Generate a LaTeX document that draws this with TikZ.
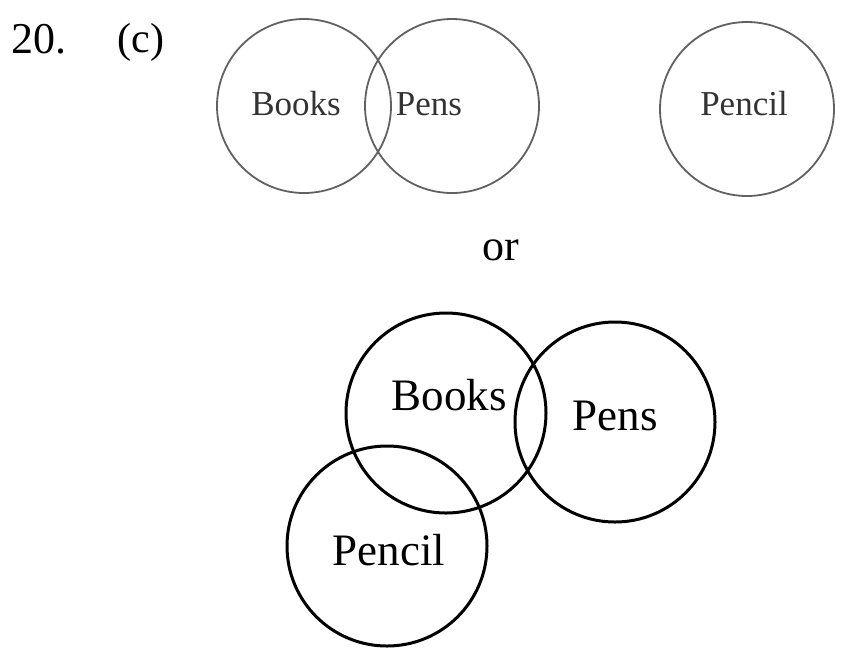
\documentclass[tikz,border=0pt]{standalone}
\usepackage{fontspec}
\setmainfont{Liberation Serif}
\begin{document}
\begin{tikzpicture}[x=1pt,y=-1pt,
  thinset/.style={circle,draw=black!62,line width=1.8pt,inner sep=0pt,outer sep=0pt,minimum size=174pt},
  thickset/.style={circle,draw=black,line width=3pt,inner sep=0pt,outer sep=0pt,minimum size=200pt},
  smalllbl/.style={anchor=base,inner sep=0pt,text=black!80,font=\fontsize{35}{40}\selectfont},
  biglbl/.style={anchor=base,inner sep=0pt,text=black,font=\fontsize{45}{52}\selectfont},
  headlbl/.style={anchor=base,inner sep=0pt,text=black,font=\fontsize{42}{48}\selectfont}]
\useasboundingbox (0,0) rectangle (842,649);
% heading
\node[headlbl,anchor=base west,font=\fontsize{44}{48}\selectfont] (num) at (11,53) {20.};
\node[headlbl] (opt) at (141,52) {(c)};
% top row
\node[thinset] (booksA) at (304,106) {};
\node[thinset] (pensA) at (452,106) {};
\node[thinset] (pencilA) at (747,109) {};
\node[smalllbl] (booksAl) at (296,115) {Books};
\node[smalllbl] (pensAl) at (429,115) {Pens};
\node[smalllbl] (pencilAl) at (744,115) {Pencil};
% or
\node[biglbl,font=\fontsize{44}{50}\selectfont] (orl) at (501,260) {or};
% bottom row
\node[thickset] (booksB) at (446,413) {};
\node[thickset] (pensB) at (615,422) {};
\node[thickset] (pencilB) at (387,546) {};
\node[biglbl] (booksBl) at (449,410) {Books};
\node[biglbl] (pensBl) at (615,430) {Pens};
\node[biglbl] (pencilBl) at (389,565) {Pencil};
\end{tikzpicture}
\end{document}
